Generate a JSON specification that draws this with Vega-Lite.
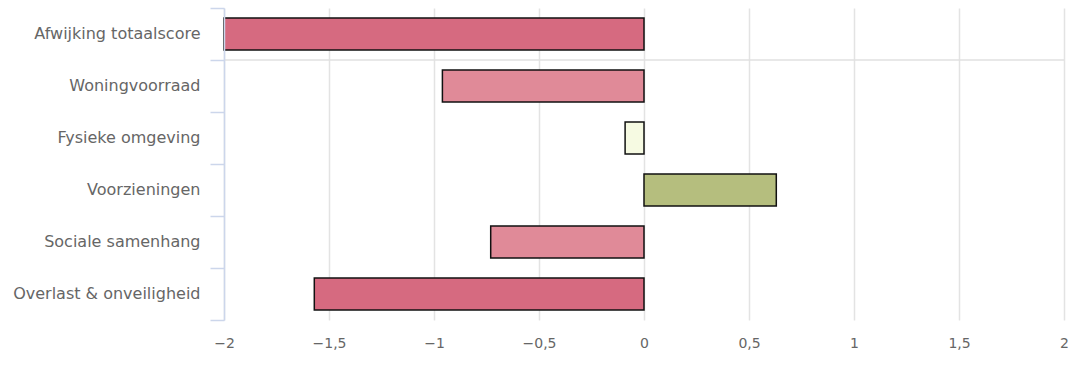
{
  "$schema": "https://vega.github.io/schema/vega-lite/v6.json",
  "width": 840,
  "height": 312,
  "autosize": {"type": "none"},
  "padding": {"left": 224, "top": 8, "right": 28, "bottom": 60},
  "background": "white",
  "config": {
    "view": {"stroke": null},
    "font": "DejaVu Sans"
  },
  "data": {
    "values": [
      {"thema": "Afwijking totaalscore", "waarde": -2.0, "klasse": "sterk negatief"},
      {"thema": "Woningvoorraad", "waarde": -0.96, "klasse": "negatief"},
      {"thema": "Fysieke omgeving", "waarde": -0.09, "klasse": "neutraal"},
      {"thema": "Voorzieningen", "waarde": 0.63, "klasse": "positief"},
      {"thema": "Sociale samenhang", "waarde": -0.73, "klasse": "negatief"},
      {"thema": "Overlast & onveiligheid", "waarde": -1.57, "klasse": "sterk negatief"}
    ]
  },
  "layer": [
    {
      "mark": {"type": "rule", "color": "#e0e0e0", "strokeWidth": 1.5},
      "data": {"values": [{"thema": "Woningvoorraad"}]},
      "encoding": {
        "y": {"field": "thema", "type": "nominal", "bandPosition": 0,
              "sort": ["Afwijking totaalscore", "Woningvoorraad", "Fysieke omgeving", "Voorzieningen", "Sociale samenhang", "Overlast & onveiligheid"]}
      }
    },
    {
      "mark": {"type": "bar", "height": {"band": 0.615}, "stroke": "#111111", "strokeWidth": 1.5},
      "encoding": {
        "y": {
          "field": "thema",
          "type": "nominal",
          "sort": ["Afwijking totaalscore", "Woningvoorraad", "Fysieke omgeving", "Voorzieningen", "Sociale samenhang", "Overlast & onveiligheid"],
          "scale": {"paddingInner": 0, "paddingOuter": 0},
          "axis": {
            "title": null,
            "bandPosition": 1,
            "tickExtra": true,
            "domainColor": "#ccd6eb",
            "domainWidth": 1.5,
            "tickColor": "#ccd6eb",
            "tickWidth": 1.5,
            "tickSize": 14,
            "labelPadding": 10,
            "labelFontSize": 16,
            "labelColor": "#666666",
            "labelFont": "DejaVu Sans",
            "labelLimit": 260,
            "grid": false,
            "zindex": 1
          }
        },
        "x": {
          "field": "waarde",
          "type": "quantitative",
          "scale": {"domain": [-2, 2], "nice": false, "zero": true},
          "axis": {
            "title": null,
            "values": [-2, -1.5, -1, -0.5, 0, 0.5, 1, 1.5, 2],
            "labelExpr": "replace(format(datum.value, ''), '.', ',')",
            "labelFlush": false,
            "domain": false,
            "ticks": false,
            "tickSize": 0,
            "labelPadding": 16,
            "labelFontSize": 14,
            "labelColor": "#666666",
            "labelFont": "DejaVu Sans",
            "grid": true,
            "gridColor": "#e3e3e3",
            "gridWidth": 1.5
          }
        },
        "color": {
          "field": "klasse",
          "type": "nominal",
          "scale": {
            "domain": ["sterk negatief", "negatief", "neutraal", "positief"],
            "range": ["#d66a80", "#e08a98", "#f6fae2", "#b5be7e"]
          },
          "legend": null
        }
      }
    }
  ]
}
